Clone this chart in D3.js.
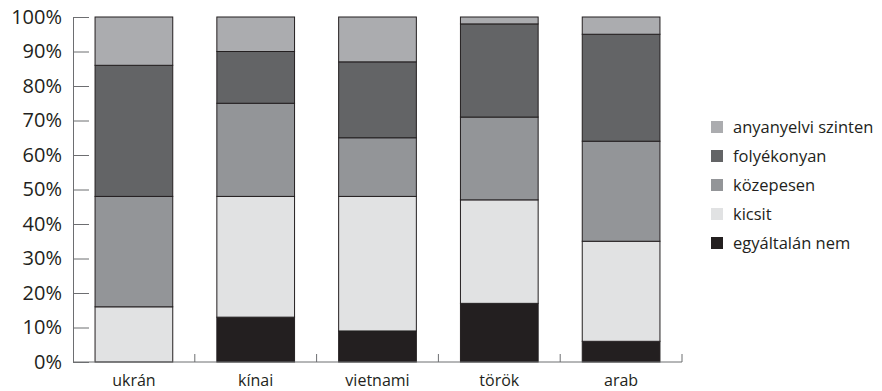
<!DOCTYPE html>
<html>
<head>
<meta charset="utf-8">
<script src="https://cdn.jsdelivr.net/npm/d3@7"></script>
<style>
  body { margin: 0; background: #fff; }
  svg { display: block; font-family: "Open Sans", sans-serif; }
</style>
</head>
<body>
<svg id="chart" width="882" height="391"></svg>
<script>
const categories = ["ukrán", "kínai", "vietnami", "török", "arab"];
const seriesNames = ["egyáltalán nem", "kicsit", "közepesen", "folyékonyan", "anyanyelvi szinten"];
const egyaltalanNem = [0, 13, 9, 17, 6];
const kicsit = [16, 35, 39, 30, 29];
const kozepesen = [32, 27, 17, 24, 29];
const folyekonyan = [38, 15, 22, 27, 31];
const anyanyelvi = [14, 10, 13, 2, 5];
const yTicks = [0, 10, 20, 30, 40, 50, 60, 70, 80, 90, 100];
const colors = ["#231f20", "#e1e2e3", "#939598", "#636466", "#abacaf"];

const seriesValues = [egyaltalanNem, kicsit, kozepesen, folyekonyan, anyanyelvi];
const rows = categories.map((c, i) => {
  const r = { cat: c };
  seriesNames.forEach((s, j) => r[s] = seriesValues[j][i]);
  return r;
});

const svg = d3.select("#chart");
const mLeft = 73, mRight = 682, mTop = 17, mBottom = 362;

const x = d3.scaleBand().domain(categories).range([mLeft, mRight])
  .paddingInner(0.362).paddingOuter(0.181);
const y = d3.scaleLinear().domain([0, 100]).range([mBottom, mTop]);

const stack = d3.stack().keys(seriesNames)(rows);
const color = d3.scaleOrdinal().domain(seriesNames).range(colors);

// bars
svg.append("g").selectAll("g").data(stack).join("g")
  .attr("fill", d => color(d.key))
  .selectAll("rect").data(d => d.filter(p => p[1] - p[0] > 0)).join("rect")
  .attr("x", d => x(d.data.cat))
  .attr("width", x.bandwidth())
  .attr("y", d => y(d[1]))
  .attr("height", d => y(d[0]) - y(d[1]))
  .attr("stroke", "#231f20")
  .attr("stroke-width", 1);

// y axis
const yAxis = d3.axisLeft(y).tickValues(yTicks).tickFormat(d => d + "%")
  .tickSizeInner(-16).tickSizeOuter(0).tickPadding(11);
const gy = svg.append("g").attr("transform", `translate(${mLeft},0)`).call(yAxis);
gy.select(".domain").attr("stroke", "#6d6e71");
gy.selectAll(".tick line").attr("stroke", "#6d6e71");
gy.selectAll("text").attr("font-size", 20).attr("fill", "#231f20")
  .attr("font-family", "Open Sans, sans-serif");

// x axis
svg.append("line").attr("x1", mLeft).attr("x2", mRight).attr("y1", mBottom).attr("y2", mBottom)
  .attr("stroke", "#6d6e71");
const boundaries = categories.map(c => x(c) + x.bandwidth() + x.step() * x.paddingInner() / 2);
svg.append("g").selectAll("line").data(boundaries).join("line")
  .attr("x1", d => d).attr("x2", d => d)
  .attr("y1", mBottom).attr("y2", mBottom - 8)
  .attr("stroke", "#6d6e71");
svg.append("g").selectAll("text").data(categories).join("text")
  .attr("x", d => x(d) + x.bandwidth() / 2)
  .attr("y", 386)
  .attr("text-anchor", "middle")
  .attr("font-size", 16)
  .attr("fill", "#231f20")
  .text(d => d);

// legend
const legendItems = seriesNames.slice().reverse();
const lg = svg.append("g").attr("transform", "translate(711,121)");
const li = lg.selectAll("g").data(legendItems).join("g")
  .attr("transform", (d, i) => `translate(0,${i * 29})`);
li.append("rect").attr("width", 12).attr("height", 12).attr("fill", d => color(d));
li.append("text").attr("x", 22).attr("y", 11.5).attr("font-size", 16.5)
  .attr("fill", "#231f20").text(d => d);
</script>
</body>
</html>
